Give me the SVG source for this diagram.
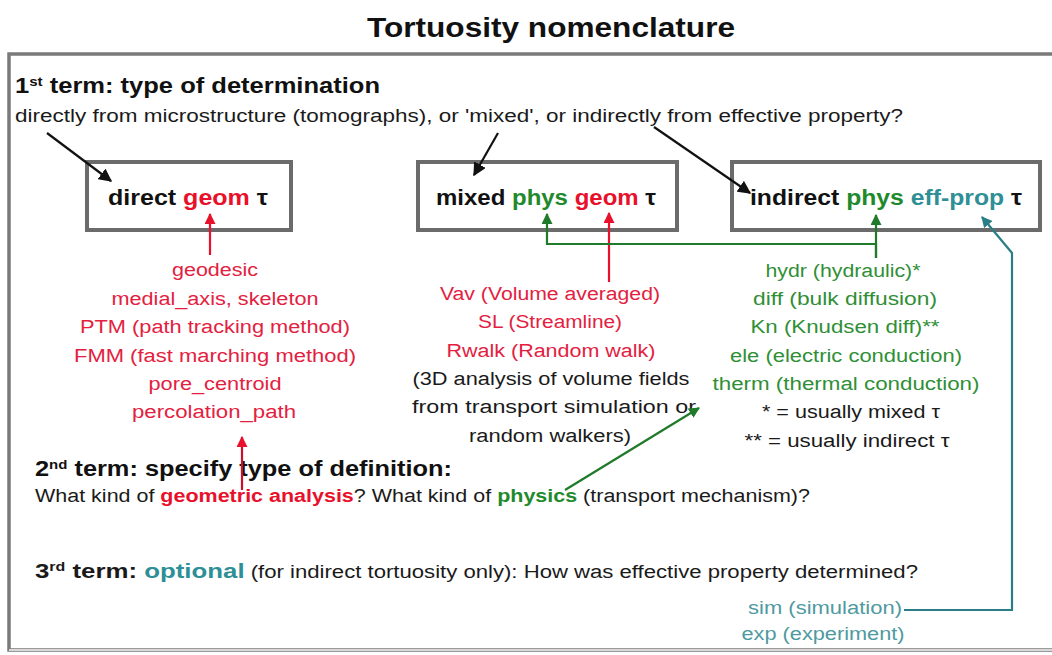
<svg xmlns="http://www.w3.org/2000/svg" width="1052" height="655" viewBox="0 0 1052 655">
  <defs>
    <style>
      text { font-family: "Liberation Sans", "Open Sans", sans-serif; }
      .title { font-size: 28px; font-weight: bold; fill: #111; }
      .head { font-size: 22px; font-weight: bold; fill: #111; }
      .body { font-size: 18px; fill: #1a1a1a; }
      .box { fill: #fff; stroke: #6b6b6b; stroke-width: 4; }
      .boxtxt { font-size: 22px; font-weight: bold; fill: #111; text-anchor: middle; }
      .lst { font-size: 18px; text-anchor: middle; }
      .red { fill: #e3213f; }
      .redb { fill: #e8102a; }
      .grn { fill: #2f8f36; }
      .grnb { fill: #1f8a2c; }
      .teal { fill: #2e8f96; }
      .teall { fill: #4f9aa0; }
      .blk { fill: #1a1a1a; }
      .sup { font-size: 13px; }
    </style>
    <marker id="ah-black" viewBox="0 0 10 10" refX="9" refY="5" markerWidth="6" markerHeight="6" orient="auto">
      <path d="M0,0 L10,5 L0,10 z" fill="#111"/>
    </marker>
    <marker id="ah-red" viewBox="0 0 10 10" refX="9" refY="5" markerWidth="5" markerHeight="5" orient="auto">
      <path d="M0,0 L10,5 L0,10 z" fill="#e8102a"/>
    </marker>
    <marker id="ah-green" viewBox="0 0 10 10" refX="9" refY="5" markerWidth="5" markerHeight="5" orient="auto">
      <path d="M0,0 L10,5 L0,10 z" fill="#1f7a2a"/>
    </marker>
    <marker id="ah-teal" viewBox="0 0 10 10" refX="9" refY="5" markerWidth="5" markerHeight="5" orient="auto">
      <path d="M0,0 L10,5 L0,10 z" fill="#2a7f86"/>
    </marker>
  </defs>

  <rect x="0" y="0" width="1052" height="655" fill="#fff"/>

  <!-- heading -->
  <text class="title" x="551" y="37" text-anchor="middle" textLength="368" lengthAdjust="spacingAndGlyphs">Tortuosity nomenclature</text>

  <!-- outer frame -->
  <rect x="9" y="54" width="1060" height="596" fill="none" stroke="#7a7a7a" stroke-width="3.5"/>
  <line x1="9" y1="650" x2="1052" y2="650" stroke="#d8d8d8" stroke-width="2"/>

  <!-- first term -->
  <g id="term1">
    <text class="head" x="15" y="93" textLength="365" lengthAdjust="spacingAndGlyphs">1<tspan class="sup" baseline-shift="super">st</tspan> term: type of determination</text>
    <text class="body" x="15" y="122" textLength="888" lengthAdjust="spacingAndGlyphs">directly from microstructure (tomographs), or 'mixed', or indirectly from effective property?</text>
  </g>

  <!-- determination boxes -->
  <g id="node-direct">
    <rect class="box" x="87" y="162" width="204" height="68"/>
    <text class="boxtxt" x="188" y="205" textLength="160" lengthAdjust="spacingAndGlyphs">direct <tspan class="redb">geom</tspan> τ</text>
  </g>
  <g id="node-mixed">
    <rect class="box" x="418" y="162" width="259" height="68"/>
    <text class="boxtxt" x="546" y="205" textLength="220" lengthAdjust="spacingAndGlyphs">mixed <tspan class="grnb">phys</tspan> <tspan class="redb">geom</tspan> τ</text>
  </g>
  <g id="node-indirect">
    <rect class="box" x="732" y="162" width="308" height="68"/>
    <text class="boxtxt" x="886" y="205" textLength="272" lengthAdjust="spacingAndGlyphs">indirect <tspan class="grnb">phys</tspan> <tspan class="teal">eff-prop</tspan> τ</text>
  </g>

  <!-- geometric methods -->
  <g id="node-geom-list" class="lst red">
    <text x="215" y="276" textLength="86" lengthAdjust="spacingAndGlyphs">geodesic</text>
    <text x="215" y="305" textLength="207" lengthAdjust="spacingAndGlyphs">medial_axis, skeleton</text>
    <text x="215" y="333" textLength="270" lengthAdjust="spacingAndGlyphs">PTM (path tracking method)</text>
    <text x="215" y="362" textLength="282" lengthAdjust="spacingAndGlyphs">FMM (fast marching method)</text>
    <text x="215" y="390" textLength="133" lengthAdjust="spacingAndGlyphs">pore_centroid</text>
    <text x="214" y="418" textLength="164" lengthAdjust="spacingAndGlyphs">percolation_path</text>
  </g>

  <!-- mixed methods -->
  <g id="node-mixed-list" class="lst">
    <text class="red" x="550" y="300" textLength="220" lengthAdjust="spacingAndGlyphs">Vav (Volume averaged)</text>
    <text class="red" x="550" y="328" textLength="144" lengthAdjust="spacingAndGlyphs">SL (Streamline)</text>
    <text class="red" x="551" y="357" textLength="209" lengthAdjust="spacingAndGlyphs">Rwalk (Random walk)</text>
    <text class="blk" x="551" y="385" textLength="277" lengthAdjust="spacingAndGlyphs">(3D analysis of volume fields</text>
    <text class="blk" x="554" y="413" textLength="284" lengthAdjust="spacingAndGlyphs">from transport simulation or</text>
    <text class="blk" x="550" y="442" textLength="162" lengthAdjust="spacingAndGlyphs">random walkers)</text>
  </g>

  <!-- physical mechanisms -->
  <g id="node-phys-list" class="lst">
    <text class="grn" x="843" y="277" textLength="155" lengthAdjust="spacingAndGlyphs">hydr (hydraulic)*</text>
    <text class="grn" x="845" y="305" textLength="184" lengthAdjust="spacingAndGlyphs">diff (bulk diffusion)</text>
    <text class="grn" x="845" y="333" textLength="189" lengthAdjust="spacingAndGlyphs">Kn (Knudsen diff)**</text>
    <text class="grn" x="846" y="362" textLength="232" lengthAdjust="spacingAndGlyphs">ele (electric conduction)</text>
    <text class="grn" x="846" y="390" textLength="267" lengthAdjust="spacingAndGlyphs">therm  (thermal conduction)</text>
    <text class="blk" x="851" y="418" textLength="178" lengthAdjust="spacingAndGlyphs">* = usually mixed τ</text>
    <text class="blk" x="847" y="447" textLength="205" lengthAdjust="spacingAndGlyphs">** = usually indirect τ</text>
  </g>

  <!-- second term -->
  <g id="term2">
    <text class="head" x="35" y="476" textLength="417" lengthAdjust="spacingAndGlyphs">2<tspan class="sup" baseline-shift="super">nd</tspan>  term: specify type of definition:</text>
    <text class="body" x="35" y="502" textLength="775" lengthAdjust="spacingAndGlyphs">What kind of  <tspan class="redb" font-weight="bold">geometric analysis</tspan>? What kind of <tspan class="grnb" font-weight="bold">physics</tspan> (transport mechanism)?</text>
  </g>

  <!-- third term -->
  <g id="term3">
    <text class="body" x="35" y="578" textLength="883" lengthAdjust="spacingAndGlyphs"><tspan font-weight="bold" font-size="21">3<tspan class="sup" baseline-shift="super">rd</tspan> term: </tspan><tspan class="teal" font-weight="bold" font-size="21">optional</tspan> (for indirect tortuosity only): How was effective property  determined?</text>
  </g>

  <!-- effective property determination -->
  <g id="node-effprop-list" class="lst teall">
    <text x="825" y="614" textLength="154" lengthAdjust="spacingAndGlyphs">sim (simulation)</text>
    <text x="823" y="640" textLength="163" lengthAdjust="spacingAndGlyphs">exp (experiment)</text>
  </g>

  <!-- connectors -->
  <g id="connectors" fill="none" stroke-width="2.2">
    <!-- determination pointers -->
    <line x1="47" y1="133" x2="111" y2="181" stroke="#111" marker-end="url(#ah-black)"/>
    <line x1="498" y1="133" x2="474" y2="175" stroke="#111" marker-end="url(#ah-black)"/>
    <line x1="654" y1="127" x2="750" y2="193" stroke="#111" marker-end="url(#ah-black)"/>

    <!-- geometric analysis links -->
    <line x1="210" y1="255" x2="210" y2="214" stroke="#e8102a" marker-end="url(#ah-red)"/>
    <line x1="609" y1="282" x2="609" y2="213" stroke="#e8102a" marker-end="url(#ah-red)"/>
    <line x1="242" y1="490" x2="242" y2="437" stroke="#c8102a" marker-end="url(#ah-red)"/>

    <!-- physics links -->
    <polyline points="876,258 876,244 547,244 547,214" stroke="#1f7a2a" marker-end="url(#ah-green)"/>
    <line x1="876" y1="258" x2="876" y2="215" stroke="#1f7a2a" marker-end="url(#ah-green)"/>
    <line x1="565" y1="490" x2="699" y2="408" stroke="#1f7a2a" marker-end="url(#ah-green)"/>

    <!-- effective property link -->
    <polyline points="904,610 1012,610 1012,253 982,217" stroke="#2a7f86" marker-end="url(#ah-teal)"/>
  </g>
</svg>
